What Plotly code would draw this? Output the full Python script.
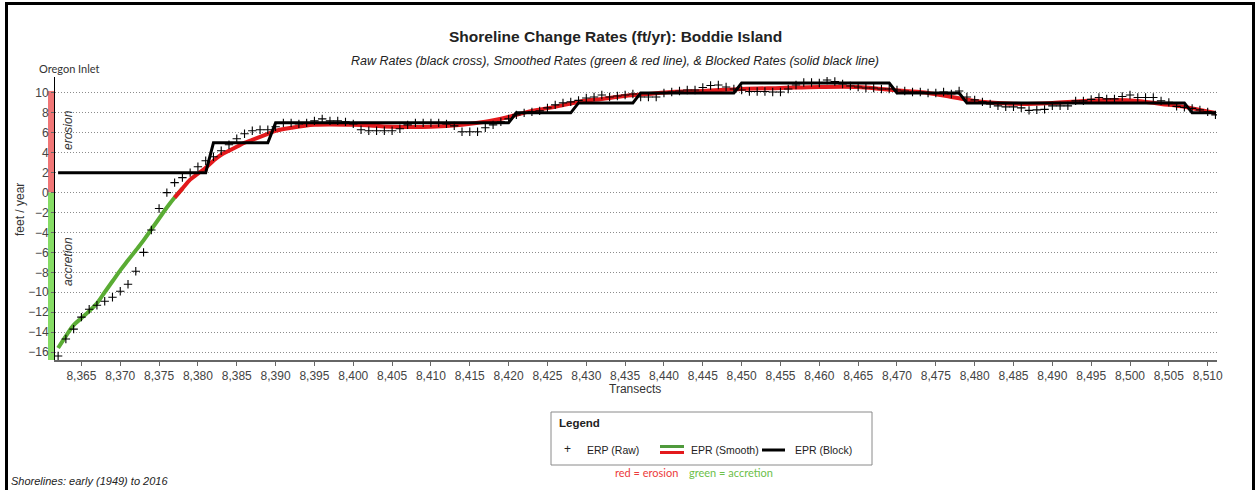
import plotly.graph_objects as go

# Raw rates (one per transect, 8362..8511)
raw_transect = list(range(8362, 8512))
raw_rate = [
    -16.4, -14.7, -13.7, -12.5, -11.7, -11.3, -10.9, -10.5, -9.9, -9.2,
    -7.9, -6.0, -3.75, -1.6, 0.0, 1.0, 1.5, 2.0, 2.6, 3.2,
    3.6, 4.2, 4.8, 5.4, 5.9, 6.2, 6.3, 6.3, 6.6, 7.0,
    7.0, 6.9, 7.0, 7.2, 7.4, 7.2, 7.2, 7.1, 6.9, 6.3,
    6.2, 6.2, 6.2, 6.2, 6.4, 6.8, 7.0, 7.0, 7.0, 7.0,
    6.9, 6.7, 6.1, 6.1, 6.1, 6.5, 6.8, 7.1, 7.4, 7.8,
    8.0, 8.1, 8.2, 8.5, 8.8, 9.0, 9.1, 9.25, 9.5, 9.6,
    9.8, 9.6, 9.7, 9.8, 9.9, 9.6, 9.6, 9.6, 10.0, 10.1,
    10.2, 10.3, 10.3, 10.55, 10.75, 10.8, 10.6, 10.4, 10.3, 10.15,
    10.15, 10.15, 10.1, 10.1, 10.4, 10.8, 11.05, 11.05, 11.0, 11.3,
    11.15, 10.9, 10.7, 10.6, 10.5, 10.5, 10.4, 10.4, 10.3, 10.2,
    10.1, 10.1, 10.0, 10.0, 10.1, 9.9, 10.2, 9.6, 9.3, 9.1,
    8.9, 8.7, 8.6, 8.6, 8.5, 8.25, 8.3, 8.35, 8.7, 8.7,
    8.7, 9.2, 9.2, 9.35, 9.55, 9.4, 9.4, 9.65, 9.8, 9.55,
    9.55, 9.55, 9.2, 9.05, 8.65, 8.55, 8.45, 8.3, 8.1, 7.8,
]

# Smoothed rates
smooth_transect = [
    8362, 8363, 8364, 8365, 8366, 8367, 8368, 8369, 8370, 8371,
    8372, 8373, 8374, 8375, 8376, 8377, 8378, 8379, 8380, 8381,
    8382, 8383, 8384, 8385, 8386, 8387, 8388, 8389, 8390, 8392,
    8395, 8400, 8405, 8410, 8414, 8417, 8420, 8423, 8426, 8429,
    8432, 8435, 8438, 8441, 8445, 8450, 8455, 8460, 8465, 8468,
    8471, 8474, 8477, 8480, 8483, 8486, 8490, 8494, 8498, 8501,
    8504, 8507, 8509, 8511,
]
smooth_rate = [
    -15.6, -14.4, -13.3, -12.6, -11.9, -11.1, -10.0, -8.9, -7.8, -6.8,
    -5.8, -4.8, -3.7, -2.6, -1.5, -0.5, 0.4, 1.3, 1.9, 2.5,
    3.2, 3.8, 4.2, 4.6, 5.0, 5.3, 5.6, 5.9, 6.2, 6.5,
    6.8, 6.8, 6.6, 6.6, 6.8, 7.1, 7.6, 8.2, 8.6, 9.1,
    9.4, 9.7, 9.9, 10.1, 10.2, 10.4, 10.5, 10.6, 10.6, 10.4,
    10.2, 10.0, 9.6, 9.2, 9.0, 8.9, 9.0, 9.2, 9.3, 9.2,
    8.9, 8.6, 8.3, 8.0,
]

# Blocked rates (vertices of the step line)
block_transect = [8362, 8381, 8382, 8389, 8390, 8420, 8421, 8428, 8429, 8436,
                  8437, 8449, 8450, 8469, 8470, 8478, 8479, 8507, 8508, 8511]
block_rate = [2, 2, 5, 5, 7, 7, 8, 8, 9, 9,
              10, 10, 11, 11, 10, 10, 9, 9, 8, 8]

y_ticks = list(range(-16, 11, 2))
x_ticks = list(range(8365, 8511, 5))

RED = "#e3191c"
GREEN = "#5aac34"
FONT = "Liberation Sans, Arial, sans-serif"
SOFT = "Lato, Open Sans, sans-serif"

W, H = 1257, 490
L, R, T, B = 55, 40, 77, 130
PW, PH = W - L - R, H - T - B


def px(x):
    return (x - L) / PW


def py(y):
    return 1 - (y - T) / PH


# split smoothed line into accretion (<0) and erosion (>=0) parts
cut = next(i for i, v in enumerate(smooth_rate) if v >= 0)
green_x, green_y = smooth_transect[:cut + 1], smooth_rate[:cut + 1]
red_x, red_y = smooth_transect[cut - 1:], smooth_rate[cut - 1:]

fig = go.Figure()

fig.add_trace(go.Scatter(x=green_x, y=green_y, mode="lines",
                         line=dict(color=GREEN, width=4, shape="spline"),
                         hoverinfo="skip", showlegend=False))
fig.add_trace(go.Scatter(x=red_x, y=red_y, mode="lines",
                         line=dict(color=RED, width=4, shape="spline"),
                         hoverinfo="skip", showlegend=False))
fig.add_trace(go.Scatter(x=block_transect, y=block_rate, mode="lines",
                         line=dict(color="black", width=3),
                         showlegend=False))
fig.add_trace(go.Scatter(x=raw_transect, y=raw_rate, mode="markers",
                         marker=dict(symbol="cross-thin", size=6,
                                     line=dict(color="black", width=1.1)),
                         showlegend=False))

shapes = [
    # erosion / accretion side bar
    dict(type="rect", xref="paper", yref="y", x0=px(48), x1=px(55), y0=0, y1=10.2,
         fillcolor="#f07676", line_width=0, layer="below"),
    dict(type="rect", xref="paper", yref="y", x0=px(48), x1=px(55), y0=-16.8, y1=0,
         fillcolor="#86dc64", line_width=0, layer="below"),
    # outer frame
    dict(type="rect", xref="paper", yref="paper", x0=px(6.5), x1=px(1253.5),
         y0=py(500), y1=py(3.5), line=dict(color="black", width=3)),
    # legend box
    dict(type="rect", xref="paper", yref="paper", x0=px(551), x1=px(872),
         y0=py(465), y1=py(412), line=dict(color="#8a8a8a", width=1),
         fillcolor="white"),
    dict(type="line", xref="paper", yref="paper", x0=px(660), x1=px(684),
         y0=py(446.5), y1=py(446.5), line=dict(color="#4f9a3c", width=3)),
    dict(type="line", xref="paper", yref="paper", x0=px(660), x1=px(684),
         y0=py(452.5), y1=py(452.5), line=dict(color=RED, width=3)),
    dict(type="line", xref="paper", yref="paper", x0=px(762), x1=px(785),
         y0=py(450), y1=py(450), line=dict(color="black", width=3)),
]


def note(text, x, y, size=12, color="#333", family=FONT, angle=0,
         xanchor="center", yanchor="middle"):
    return dict(text=text, xref="paper", yref="paper", x=px(x), y=py(y),
                showarrow=False, font=dict(size=size, color=color, family=family),
                textangle=angle, xanchor=xanchor, yanchor=yanchor)


annotations = [
    note("<b>Shoreline Change Rates (ft/yr): Boddie Island</b>", 615, 36,
         size=15.5, color="#222"),
    note("<i>Raw Rates (black cross), Smoothed Rates (green &amp; red line), "
         "&amp; Blocked Rates (solid black line)</i>", 615, 61, size=12.5, color="#222"),
    note("Oregon Inlet", 69, 68, size=11, color="#333", family=SOFT),
    note("feet / year", 20, 210, size=12, color="#333", angle=-90),
    note("<i>erosion</i>", 68, 130, size=12, color="#333", angle=-90),
    note("<i>accretion</i>", 68, 262, size=12, color="#333", angle=-90),
    note("Transects", 635, 389, size=12, color="#333"),
    note("<b>Legend</b>", 557, 423, size=11.5, color="#222", xanchor="left"),
    note("+", 567, 449, size=12, color="#222"),
    note("ERP (Raw)", 585, 450, size=10.5, color="#222", xanchor="left"),
    note("EPR (Smooth)", 689, 450, size=10.5, color="#222", xanchor="left"),
    note("EPR (Block)", 793, 450, size=10.5, color="#222", xanchor="left"),
    note("red = erosion", 613, 472, size=11, color="#ec3b3b", family=SOFT,
         xanchor="left"),
    note("green = accretion", 687, 472, size=11, color="#6cc04a", family=SOFT,
         xanchor="left"),
    note("<i>Shorelines: early (1949) to 2016</i>", 9, 481, size=11, color="#222",
         xanchor="left"),
]

fig.update_layout(
    width=W, height=H,
    margin=dict(l=L, r=R, t=T, b=B),
    paper_bgcolor="white", plot_bgcolor="white",
    font=dict(family=FONT, size=12, color="#333"),
    shapes=shapes, annotations=annotations,
    xaxis=dict(range=[8361.6, 8511.2], tickvals=x_ticks, tickformat=",d",
               showgrid=False, zeroline=False, showline=True,
               linecolor="#666", linewidth=2, ticks="outside", ticklen=4,
               tickcolor="#666", tickfont=dict(size=12, color="#444")),
    yaxis=dict(range=[-16.8, 11.6], tickvals=y_ticks, showgrid=True,
               gridcolor="#8c8c8c", griddash="1px,2px", gridwidth=1, zeroline=False,
               showline=True, linecolor="black", linewidth=1,
               ticks="outside", ticklen=3, tickcolor="#666",
               tickfont=dict(size=12, color="#444")),
    showlegend=False,
)

fig.write_html("out.html", config={"displayModeBar": False},
               post_script="document.body.style.margin='0';"
                           "document.body.style.overflow='hidden';")
